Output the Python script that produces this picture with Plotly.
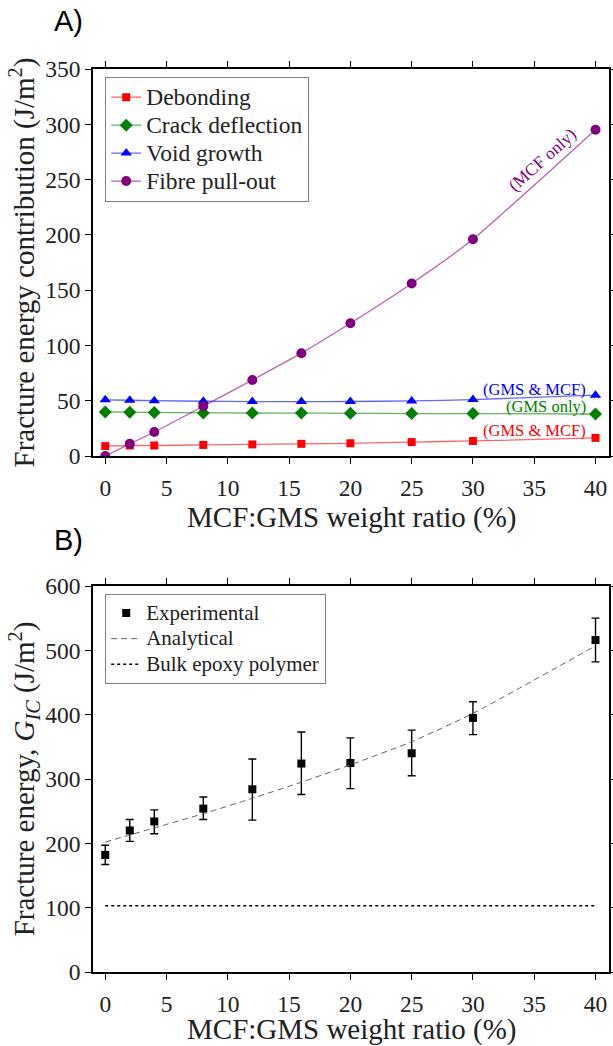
import plotly.graph_objects as go

# ---------------- data ----------------
ratio = [0, 2, 4, 8, 12, 16, 20, 25, 30, 40]

debonding = [9.0, 9.5, 9.5, 10.0, 10.5, 11.0, 11.5, 12.6, 13.6, 16.4]
crack_deflection = [39.8, 39.6, 39.4, 39.0, 38.9, 38.8, 38.6, 38.4, 38.4, 38.0]
void_growth = [50.8, 50.4, 50.0, 49.5, 49.2, 49.2, 49.3, 49.8, 51.0, 55.0]
fibre_pullout = [0.0, 11.0, 21.7, 45.0, 68.7, 93.0, 120.0, 156.0, 196.0, 295.0]

exp_mean = [182, 220, 234, 254, 284, 324, 325, 340, 395, 516]
exp_upper = [197, 237, 252, 272, 331, 373, 364, 376, 420, 550]
exp_lower = [167, 203, 215, 237, 236, 276, 285, 305, 369, 482]
analytical = [202, 213, 224, 246, 270, 295, 322, 358, 402, 507]
bulk_epoxy = [103] * len(ratio)

x_ticks = [0, 5, 10, 15, 20, 25, 30, 35, 40]
yA_ticks = [0, 50, 100, 150, 200, 250, 300, 350]
yB_ticks = [0, 100, 200, 300, 400, 500, 600]

SERIF = "Liberation Serif, Times New Roman, serif"
SANS = "Liberation Sans, Arial, sans-serif"
W, H = 613, 1046
ML, MR, MT, MB = 93, 4, 69, 74


def big(name, px):
    return "<span style='font-size:%gpx'>%s</span>" % (px, name)


fig = go.Figure()

# ---------------- panel A ----------------
seriesA = [
    ("Debonding", debonding, "rgb(255,0,0)", "rgba(255,0,0,0.6)", "square", 8),
    ("Crack deflection", crack_deflection, "rgb(0,128,0)", "rgba(0,128,0,0.6)", "diamond", 10),
    ("Void growth", void_growth, "rgb(0,0,255)", "rgba(0,0,255,0.6)", "triangle-up", 10),
    ("Fibre pull-out", fibre_pullout, "rgb(128,0,128)", "rgba(128,0,128,0.6)", "circle", 10),
]
for name, vals, mc, lc, sym, sz in seriesA:
    fig.add_trace(go.Scatter(
        x=ratio, y=vals, name=big(name, 23.5), mode="lines+markers",
        line=dict(color=lc, width=1.3, shape="spline", smoothing=0.5),
        marker=dict(color=mc, symbol=sym, size=sz, line=dict(width=0)),
        xaxis="x", yaxis="y", legend="legend",
    ))

# ---------------- panel B ----------------
err_plus = [u - m for u, m in zip(exp_upper, exp_mean)]
err_minus = [m - l for m, l in zip(exp_mean, exp_lower)]
fig.add_trace(go.Scatter(
    x=ratio, y=exp_mean, name=big("Experimental", 21), mode="markers",
    marker=dict(color="black", symbol="square", size=8),
    error_y=dict(type="data", symmetric=False, array=err_plus, arrayminus=err_minus,
                 color="black", thickness=1.4, width=4),
    xaxis="x2", yaxis="y2", legend="legend2",
))
fig.add_trace(go.Scatter(
    x=ratio, y=analytical, name=big("Analytical", 21), mode="lines",
    line=dict(color="rgb(100,100,100)", width=1, dash="6px,4px", shape="spline", smoothing=0.6),
    xaxis="x2", yaxis="y2", legend="legend2",
))
fig.add_trace(go.Scatter(
    x=ratio, y=bulk_epoxy, name=big("Bulk epoxy polymer", 21), mode="lines",
    line=dict(color="black", width=1.5, dash="dot"),
    xaxis="x2", yaxis="y2", legend="legend2",
))

axis_common = dict(
    showline=True, linecolor="black", linewidth=1.5, mirror="ticks",
    ticks="outside", ticklen=6, tickwidth=1.2, tickcolor="black",
    showgrid=False, zeroline=False, automargin=False,
    tickfont=dict(family=SERIF, size=23.5, color="#222"),
)
x_common = dict(ticklabelstandoff=4, **axis_common)

plot_w = W - ML - MR
plot_h = H - MT - MB


def py_to_paper(py):
    return (H - MB - py) / plot_h


def px_to_paper(px):
    return (px - ML) / plot_w


fig.update_layout(
    template="none",
    width=W, height=H,
    margin=dict(l=ML, r=MR, t=MT, b=MB, autoexpand=False),
    paper_bgcolor="white", plot_bgcolor="white",
    font=dict(family=SERIF, color="#222"),
    xaxis=dict(domain=[0, 1], range=[-1, 41.1], tickvals=x_ticks, anchor="y", **x_common),
    yaxis=dict(domain=[py_to_paper(456), 1], range=[0, 350], tickvals=yA_ticks, anchor="x",
               title=dict(text="Fracture energy contribution (J/m<sup>2</sup>)",
                          font=dict(family=SERIF, size=29, color="#222"), standoff=2),
               **axis_common),
    xaxis2=dict(domain=[0, 1], range=[-1, 41.1], tickvals=x_ticks, anchor="y2", **x_common),
    yaxis2=dict(domain=[0, py_to_paper(586)], range=[0, 600], tickvals=yB_ticks, anchor="x2",
                title=dict(text="Fracture energy, <i>G</i><sub><i>IC</i></sub> (J/m<sup>2</sup>)",
                           font=dict(family=SERIF, size=29, color="#222"), standoff=2),
                **axis_common),
    legend=dict(x=px_to_paper(105), y=py_to_paper(77), xanchor="left", yanchor="top",
                bgcolor="white", bordercolor="#808080", borderwidth=1.2,
                font=dict(family=SERIF, size=19.2, color="#222"),
                itemwidth=30, tracegroupgap=0),
    legend2=dict(x=px_to_paper(105), y=py_to_paper(594), xanchor="left", yanchor="top",
                 bgcolor="white", bordercolor="#808080", borderwidth=1.2,
                 font=dict(family=SERIF, size=17.4, color="#222"),
                 itemwidth=30, tracegroupgap=0),
    showlegend=True,
)

annotations = [
    dict(text="(MCF only)", x=35.6, y=268, xref="x", yref="y", showarrow=False,
         textangle=-42, font=dict(family=SERIF, size=17.5, color="rgb(128,0,128)")),
    dict(text="(GMS &amp; MCF)", x=35.0, y=60.5, xref="x", yref="y", showarrow=False,
         font=dict(family=SERIF, size=16.5, color="rgb(0,0,255)")),
    dict(text="(GMS only)", x=36.0, y=45.0, xref="x", yref="y", showarrow=False,
         font=dict(family=SERIF, size=16.5, color="rgb(0,128,0)")),
    dict(text="(GMS &amp; MCF)", x=35.0, y=23.5, xref="x", yref="y", showarrow=False,
         font=dict(family=SERIF, size=16.5, color="rgb(255,0,0)")),
]
# x-axis titles (placed as paper annotations so they sit where the reference has them)
for py in (517, 1029):
    annotations.append(dict(
        text="MCF:GMS weight ratio (%)", x=0.5, y=py_to_paper(py),
        xref="paper", yref="paper", xanchor="center", yanchor="middle",
        showarrow=False, font=dict(family=SERIF, size=29, color="#222")))
for label, px, py in [("A)", 68, 21), ("B)", 68, 540)]:
    annotations.append(dict(
        text=label, x=px_to_paper(px), y=py_to_paper(py),
        xref="paper", yref="paper", xanchor="center", yanchor="middle",
        showarrow=False, font=dict(family=SANS, size=29, color="black")))
fig.update_layout(annotations=annotations)

post = "document.body.style.margin='0';document.body.style.padding='0';"
fig.write_html("out.html", post_script=post, config={"displayModeBar": False})
